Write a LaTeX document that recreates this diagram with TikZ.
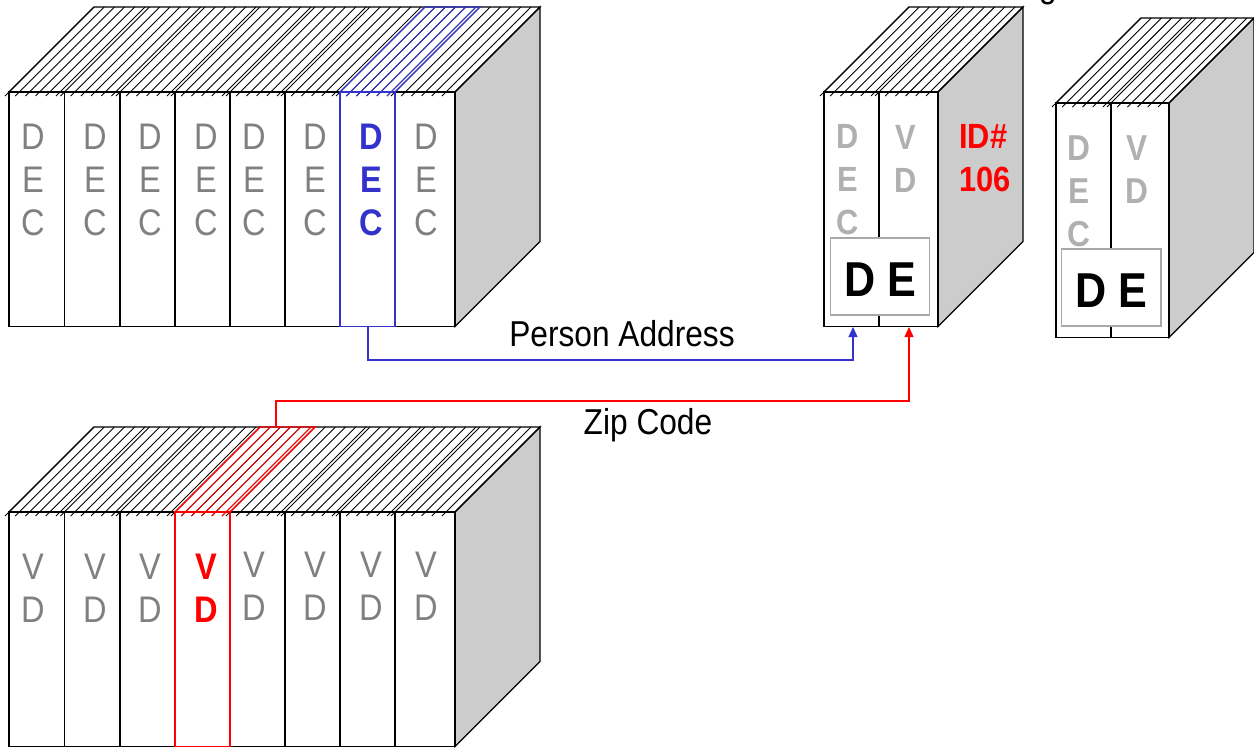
\documentclass[tikz,border=0pt]{standalone}
\usepackage{fontspec}
\setmainfont{Liberation Sans}[FakeStretch=0.88]
\usetikzlibrary{arrows.meta}

\definecolor{sidegray}{HTML}{CCCCCC}
\definecolor{inkgray}{HTML}{808080}
\definecolor{palegray}{HTML}{B0B0B0}
\definecolor{selblue}{HTML}{3333CC}
\definecolor{selred}{HTML}{FF0000}
\definecolor{boxgray}{HTML}{A8A8A8}

\tikzset{
  edge/.style={draw=black, line width=1.3pt, line join=miter},
  sideface/.style={edge, fill=sidegray},
  hatchline/.style={line width=0.9pt},
  spine/.style={align=center, inner sep=0pt, text=inkgray, font=\fontsize{37}{43}\selectfont},
  spinebold/.style={align=center, inner sep=0pt, font=\bfseries\fontsize{37}{43}\selectfont},
  spinepale/.style={align=center, inner sep=0pt, text=palegray, font=\bfseries\fontsize{35}{43}\selectfont},
  debox/.style={draw=boxgray, line width=1.5pt, fill=white, inner sep=0pt},
  detext/.style={inner sep=0pt, font=\bfseries\fontsize{49}{55}\selectfont},
  caption/.style={inner sep=0pt, font=\fontsize{36}{40}\selectfont},
  link/.style={line width=1.3pt, -{Triangle[length=10pt,width=9pt]}},
}

% #1 left x, #2 right x, #3 top y, #4 bottom y, #5 column bounds a/b
\newcommand\shelfblock[5]{%
  \fill[white] (#1,#3) rectangle (#2,#4);
  \filldraw[sideface] (#2,#3) -- ({#2+85},{#3-85}) -- ({#2+85},{#4-85}) -- (#2,#4) -- cycle;
  \foreach \a/\b in {#5} {
    \foreach \k in {0,...,5} {
      \draw[hatchline] ({\a+\k*10.2-4},{#3+4}) -- ++(89,-89);
    }
  }
  \draw[edge] (#1,#3) -- ({#1+85},{#3-85}) -- ({#2+85},{#3-85}) -- (#2,#3);
  \foreach \a/\b in {#5} {
    \draw[edge] (\a,#3) rectangle (\b,#4);
  }
}

\begin{document}
\begin{tikzpicture}[x=1pt,y=-1pt]
\useasboundingbox (0,0) rectangle (1254,748);

% descender of a heading above the frame
\node[caption, anchor=base] (headtail) at (1048,-3) {g};

% ---- upper shelf: DEC volumes ----
\shelfblock{9}{455}{92}{326.5}{9/64.5,64.5/120,120/175,175/230,230/285,285/340,340/395,395/455}
% selected DEC volume
\draw[selblue, line width=1.4pt] (340,92) rectangle (395,326.5);
\foreach \k in {1,...,5} \draw[selblue, hatchline] ({340+\k*10.2-4},96) -- ++(89,-89);
\draw[selblue, line width=1.4pt] (340,92) -- (425,7) -- (480,7) -- (395,92);

\foreach \x [count=\i] in {33,95,150,206,254,315} {
  \node[spine] (dec\i) at (\x,180) {D\\E\\C};
}
\node[spinebold, text=selblue] (dec7) at (371,180) {D\\E\\C};
\node[spine] (dec8) at (426,180) {D\\E\\C};

% ---- lower shelf: VD volumes ----
\shelfblock{9}{455}{512}{746.5}{9/64.5,64.5/120,120/175,175/230,230/285,285/340,340/395,395/455}
% selected VD volume
\draw[selred, line width=1.4pt] (175,512) rectangle (230,746.5);
\foreach \k in {1,...,5} \draw[selred, hatchline] ({175+\k*10.2-4},516) -- ++(89,-89);
\draw[selred, line width=1.4pt] (175,512) -- (260,427) -- (315,427) -- (230,512);

\foreach \x [count=\i] in {33,95,150} {
  \node[spine] (vd\i) at (\x,588) {V\\D};
}
\node[spinebold, text=selred] (vd4) at (206,588) {V\\D};
\foreach \x [count=\i from 5] in {254,315,371,426} {
  \node[spine] (vd\i) at (\x,586) {V\\D};
}

% ---- record ID# 106 ----
\shelfblock{824}{938}{92}{326.5}{824/879,879/938}
\node[spinepale] (recdec) at (848,180) {D\\E\\C};
\node[spinepale] (recvd) at (906,158.5) {V\\D};
\node[inner sep=0pt, anchor=west, align=left, text=selred, font=\bfseries\fontsize{35}{43}\selectfont] (recid) at (959,158.5) {ID\#\\106};
\node[debox, minimum width=98.6pt, minimum height=77pt] (recbox) at (880,276.7) {};
\node[detext] (recde) at (880,279.5) {D E};

% ---- second record ----
\shelfblock{1056}{1169}{103}{337.5}{1056/1111,1111/1169}
\node[spinepale, font=\bfseries\fontsize{36}{43}\selectfont] (nextdec) at (1079,191.5) {D\\E\\C};
\node[spinepale, font=\bfseries\fontsize{36}{43}\selectfont] (nextvd) at (1137,169.5) {V\\D};
\node[debox, minimum width=99.3pt, minimum height=77pt] (nextbox) at (1111.3,287.7) {};
\node[detext] (nextde) at (1111,290.5) {D E};

% ---- connectors ----
\coordinate (decsel) at (368,326.5);
\coordinate (addrin) at (853,327);
\coordinate (vdsel) at (276,427);
\coordinate (zipin) at (909,327);

\draw[link, selblue] (decsel) -- ++(0,33.5) -| (addrin);
\draw[link, selred] (vdsel) -- ++(0,-26) -| (zipin);

\node[caption] (addrlabel) at (622,334) {Person Address};
\node[caption] (ziplabel) at (648,425) {Zip Code};
\end{tikzpicture}
\end{document}
